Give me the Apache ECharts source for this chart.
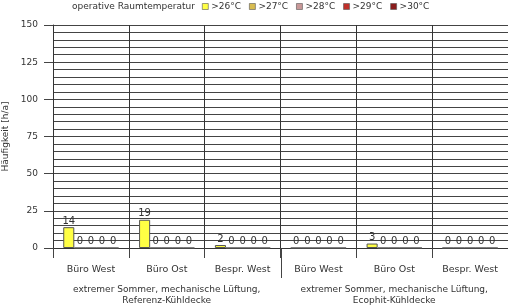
<!DOCTYPE html>
<html><head><meta charset="utf-8">
<script src="https://cdn.jsdelivr.net/npm/echarts@6/dist/echarts.min.js"></script>
<style>html,body{margin:0;padding:0;background:#fff}#c{width:508px;height:306px}</style>
</head><body><div id="c"></div>
<script>
const categories = ['Büro West','Büro Ost','Bespr. West','Büro West','Büro Ost','Bespr. West'];
const groups = ['extremer Sommer, mechanische Lüftung,\nReferenz-Kühldecke','extremer Sommer, mechanische Lüftung,\nEcophit-Kühldecke'];
const seriesNames = ['>26°C','>27°C','>28°C','>29°C','>30°C'];
const s26 = [14, 19, 2, 0, 3, 0];
const s27 = [0, 0, 0, 0, 0, 0];
const s28 = [0, 0, 0, 0, 0, 0];
const s29 = [0, 0, 0, 0, 0, 0];
const s30 = [0, 0, 0, 0, 0, 0];
const values = [s26, s27, s28, s29, s30];
const colors = ['#ffff44','#d8bc50','#c89898','#c0302a','#8a1c1c'];
const yTicks = {min:0, max:150, interval:25};
const FONT = 'DejaVu Sans';

const chart = echarts.init(document.getElementById('c'));
const series = values.map((v,i)=>({
  name: seriesNames[i], type:'bar', data:v, barGap:'0%', barCategoryGap:'27%',
  itemStyle:{color:colors[i], borderColor:'#555', borderWidth:1},
  label:{show:true, position:'top', distance:1, color:'#333', fontSize:10, fontFamily:FONT},
  z:3
}));
chart.setOption({
  animation:false,
  textStyle:{fontFamily:FONT},
  legend:{
    data:seriesNames, left:202, top:2, padding:0, itemWidth:6, itemHeight:6, itemGap:8,
    icon:'rect', textStyle:{fontSize:9, color:'#333', fontFamily:FONT, padding:[0,0,0,-2]},
    itemStyle:{borderColor:'#555', borderWidth:0.6}
  },
  grid:{left:53, right:0, top:25, bottom:58, containLabel:false, outerBoundsMode:'none'},
  xAxis:[{
    type:'category', data:categories, position:'bottom',
    axisLine:{show:true, lineStyle:{color:'#333'}},
    axisTick:{show:true, length:10, lineStyle:{color:'#444'}},
    axisLabel:{fontSize:9.5, color:'#333', margin:17, fontFamily:FONT, interval:0},
    splitLine:{show:true, lineStyle:{color:'#333', width:1}}
  },{
    type:'category', data:groups, position:'bottom', gridIndex:0,
    axisLine:{show:false}, axisTick:{show:false},
    axisLabel:{fontSize:9, color:'#333', margin:36, lineHeight:11, fontFamily:FONT, interval:0, hideOverlap:false}
  }],
  yAxis:{
    type:'value', min:yTicks.min, max:yTicks.max, interval:yTicks.interval,
    name:'Häufigkeit [h/a]', nameLocation:'middle', nameGap:37,
    nameTextStyle:{fontSize:9, color:'#333', fontFamily:FONT},
    axisLine:{show:true, lineStyle:{color:'#333'}},
    axisTick:{show:true, length:9, lineStyle:{color:'#444'}},
    axisLabel:{fontSize:9, color:'#333', margin:15, fontFamily:FONT},
    splitLine:{show:true, lineStyle:{color:'#444'}},
    minorTick:{show:false, splitNumber:5},
    minorSplitLine:{show:true, lineStyle:{color:'#444'}}
  },
  graphic:[{type:'text', right:313, top:2, style:{text:'operative Raumtemperatur', fontSize:9, fill:'#333', fontFamily:FONT}}],
  series:series
});
// separator between the two groups, placed from the axis scale
const xa = chart.getModel().getComponent('xAxis',0).axis;
const band = xa.getBandWidth();
const xs = chart.convertToPixel({xAxisIndex:0}, categories.length/2 - 1) + band/2;
const y0 = chart.convertToPixel({yAxisIndex:0}, 0);
chart.setOption({graphic:[{}, {type:'line', shape:{x1:Math.round(xs)+0.5, y1:y0, x2:Math.round(xs)+0.5, y2:y0+30}, style:{stroke:'#444', lineWidth:1}}]});
</script></body></html>
